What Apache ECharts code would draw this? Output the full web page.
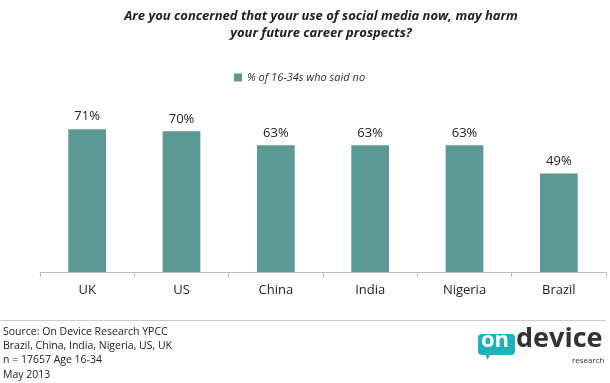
<!DOCTYPE html>
<html><head><meta charset="utf-8">
<script src="https://cdn.jsdelivr.net/npm/echarts@6/dist/echarts.min.js"></script>
<style>html,body{margin:0;padding:0;background:#fff}#c{width:610px;height:383px}</style>
</head><body><div id="c"></div>
<script>
var categories = ['UK', 'US', 'China', 'India', 'Nigeria', 'Brazil'];
var values = [71, 70, 63, 63, 63, 49];
var seriesName = '% of 16-34s who said no';
var titleLines = ['Are you concerned that your use of social media now, may harm', 'your future career prospects?'];
var footerLines = ['Source: On Device Research YPCC', 'Brazil, China, India, Nigeria, US, UK', 'n = 17657 Age 16-34', 'May 2013'];

var F = "'Open Sans', 'Liberation Sans', sans-serif";
var teal = '#5B9995';
var chart = echarts.init(document.getElementById('c'));
var footer = footerLines.map(function (t, i) {
  return { type: 'text', x: 3, y: 332 + i * 14.2, style: { text: t, font: '10.5px ' + F, fill: '#222', textVerticalAlign: 'middle' } };
});
var titles = titleLines.map(function (t, i) {
  return { type: 'text', x: 321, y: 16 + i * 17, style: { text: t, font: 'italic bold 13px ' + F, fill: '#222', textAlign: 'center', textVerticalAlign: 'middle' } };
});
chart.setOption({
  animation: false,
  legend: {
    data: [seriesName], top: 67, left: 229, itemWidth: 8, itemHeight: 8, icon: 'rect', itemGap: 4,
    textStyle: { fontFamily: F, fontSize: 11, fontStyle: 'italic', color: '#333' }
  },
  grid: { left: 40, right: 4, top: 71, bottom: 111 },
  xAxis: {
    type: 'category', data: categories,
    axisLine: { lineStyle: { color: '#bbb' } },
    axisTick: { show: true, length: 5, lineStyle: { color: '#bbb' } },
    axisLabel: { fontFamily: F, fontSize: 13, color: '#222', margin: 12 }
  },
  yAxis: { type: 'value', min: 0, max: 100, show: false, splitLine: { show: false } },
  series: [{
    name: seriesName, type: 'bar', data: values, barWidth: '40%',
    itemStyle: { color: teal },
    label: { show: true, position: 'top', formatter: '{c}%', fontFamily: F, fontSize: 13, color: '#222', distance: 6 }
  }],
  graphic: titles.concat(footer).concat([
    { type: 'line', shape: { x1: 0, y1: 320.5, x2: 606, y2: 320.5 }, style: { stroke: '#ccc', lineWidth: 1 } },
    { type: 'polygon', shape: { points: [[485, 352], [492, 352], [487, 360]] }, style: { fill: '#1DB3B8' } },
    { type: 'rect', shape: { x: 478, y: 334, width: 37, height: 21, r: 4 }, style: { fill: '#1DB3B8' } },
    { type: 'text', left: 481, top: 330, style: { text: 'on', font: 'bold 22px ' + F, fill: '#fff' } },
    { type: 'text', left: 516, top: 326, style: { text: 'device', font: 'bold 27px ' + F, fill: '#333' } },
    { type: 'text', left: 572, top: 357, style: { text: 'research', font: '8px ' + F, fill: '#333' } }
  ])
});
</script></body></html>
